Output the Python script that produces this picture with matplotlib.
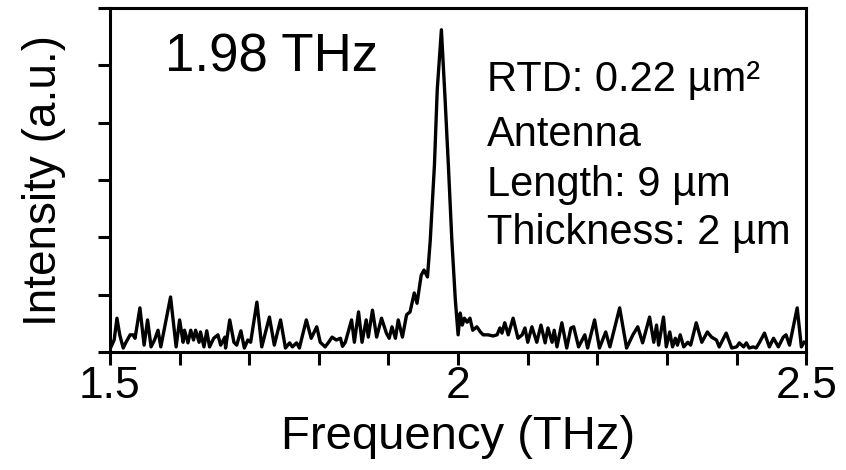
import matplotlib
matplotlib.use('Agg')
import matplotlib.pyplot as plt
from matplotlib.ticker import MultipleLocator

plt.rcParams['font.family'] = ['Liberation Sans', 'DejaVu Sans']

# spectrum (THz, a.u.)
Freq = [1.500, 1.506, 1.510, 1.514, 1.519, 1.523, 1.529, 1.533, 1.536, 1.543,
        1.549, 1.554, 1.559, 1.564, 1.569, 1.573, 1.587, 1.595, 1.600, 1.605,
        1.607, 1.612, 1.616, 1.620, 1.623, 1.628, 1.630, 1.635, 1.639, 1.643,
        1.649, 1.655, 1.659, 1.665, 1.666, 1.672, 1.678, 1.682, 1.688, 1.693,
        1.698, 1.702, 1.711, 1.718, 1.729, 1.736, 1.745, 1.752, 1.758, 1.762,
        1.768, 1.772, 1.782, 1.789, 1.797, 1.802, 1.809, 1.814, 1.819, 1.825,
        1.831, 1.834, 1.838, 1.847, 1.851, 1.857, 1.862, 1.868, 1.871, 1.877,
        1.883, 1.890, 1.897, 1.901, 1.905, 1.910, 1.914, 1.920, 1.926, 1.931,
        1.937, 1.941, 1.947, 1.951, 1.956, 1.960, 1.966, 1.970, 1.976, 1.981,
        1.986, 1.991, 1.996, 2.000, 2.003, 2.006, 2.009, 2.013, 2.017, 2.021,
        2.027, 2.032, 2.036, 2.043, 2.050, 2.056, 2.060, 2.063, 2.067, 2.072,
        2.079, 2.086, 2.092, 2.096, 2.100, 2.106, 2.113, 2.119, 2.125, 2.129,
        2.135, 2.138, 2.142, 2.149, 2.156, 2.162, 2.166, 2.173, 2.182, 2.186,
        2.196, 2.203, 2.212, 2.218, 2.232, 2.242, 2.251, 2.258, 2.265, 2.275,
        2.281, 2.285, 2.288, 2.295, 2.299, 2.304, 2.308, 2.312, 2.315, 2.319,
        2.324, 2.330, 2.334, 2.342, 2.350, 2.358, 2.364, 2.371, 2.375, 2.385,
        2.393, 2.400, 2.404, 2.410, 2.414, 2.418, 2.424, 2.428, 2.433, 2.440,
        2.447, 2.453, 2.460, 2.467, 2.471, 2.476, 2.487, 2.493, 2.497]
Intensidade = [0.05, 0.21, 0.59, 0.30, 0.07, 0.17, 0.30, 0.30, 0.24, 0.77,
               0.12, 0.56, 0.09, 0.21, 0.38, 0.09, 0.96, 0.09, 0.56, 0.17,
               0.38, 0.16, 0.38, 0.21, 0.38, 0.17, 0.35, 0.09, 0.37, 0.09,
               0.24, 0.30, 0.12, 0.26, 0.07, 0.56, 0.17, 0.12, 0.37, 0.07,
               0.21, 0.17, 0.87, 0.09, 0.61, 0.12, 0.56, 0.07, 0.16, 0.09,
               0.16, 0.07, 0.56, 0.24, 0.44, 0.17, 0.09, 0.17, 0.26, 0.21,
               0.24, 0.10, 0.17, 0.56, 0.17, 0.70, 0.17, 0.56, 0.26, 0.73,
               0.26, 0.59, 0.33, 0.24, 0.44, 0.24, 0.56, 0.26, 0.65, 0.70,
               1.03, 0.85, 1.34, 1.43, 1.31, 1.95, 3.26, 4.57, 5.62, 4.48,
               3.26, 1.95, 0.91, 0.30, 0.68, 0.47, 0.59, 0.52, 0.59, 0.38,
               0.44, 0.35, 0.30, 0.30, 0.28, 0.30, 0.42, 0.33, 0.51, 0.30,
               0.59, 0.24, 0.30, 0.42, 0.17, 0.44, 0.17, 0.47, 0.16, 0.42,
               0.17, 0.38, 0.09, 0.51, 0.07, 0.42, 0.44, 0.09, 0.30, 0.07,
               0.56, 0.07, 0.35, 0.09, 0.77, 0.07, 0.30, 0.44, 0.16, 0.61,
               0.17, 0.47, 0.12, 0.61, 0.09, 0.35, 0.09, 0.24, 0.12, 0.30,
               0.09, 0.17, 0.12, 0.51, 0.17, 0.35, 0.26, 0.21, 0.09, 0.33,
               0.07, 0.09, 0.16, 0.09, 0.16, 0.07, 0.09, 0.07, 0.17, 0.33,
               0.09, 0.24, 0.09, 0.26, 0.30, 0.12, 0.77, 0.09, 0.17]

Ticks_X = [1.5, 2.0, 2.5]
Rotulos_X = ['1.5', '2', '2.5']

Legenda = ['RTD: 0.22 µm²', 'Antenna', 'Length: 9 µm', 'Thickness: 2 µm']

fig = plt.figure(figsize=(8.46, 4.70), dpi=100)
ax = fig.add_axes([0.130, 0.251, 0.823, 0.732])

ax.plot(Freq, Intensidade, color='black', lw=2.4, solid_joinstyle='round')

ax.set_xlim(1.5, 2.5)
ax.set_ylim(0, 6)
ax.set_xticks(Ticks_X)
ax.set_xticklabels(Rotulos_X, fontsize=32)
ax.xaxis.set_minor_locator(MultipleLocator(0.1))
ax.yaxis.set_major_locator(MultipleLocator(1))
ax.set_yticklabels([])

for s in ax.spines.values():
    s.set_linewidth(2.2)
ax.tick_params(axis='both', which='both', direction='out', width=2.2, length=9, pad=1)

ax.set_xlabel('Frequency (THz)', fontsize=34, labelpad=6)
ax.set_ylabel('Intensity (a.u.)', fontsize=33, labelpad=22)

ax.text(0.079, 0.855, '1.98 THz', transform=ax.transAxes, fontsize=38, va='center', ha='left')
ys = [0.79, 0.63, 0.485, 0.346]
for t, yy in zip(Legenda, ys):
    ax.text(0.542, yy, t, transform=ax.transAxes, fontsize=30, va='center', ha='left')

fig.savefig('out.png', dpi=100)
